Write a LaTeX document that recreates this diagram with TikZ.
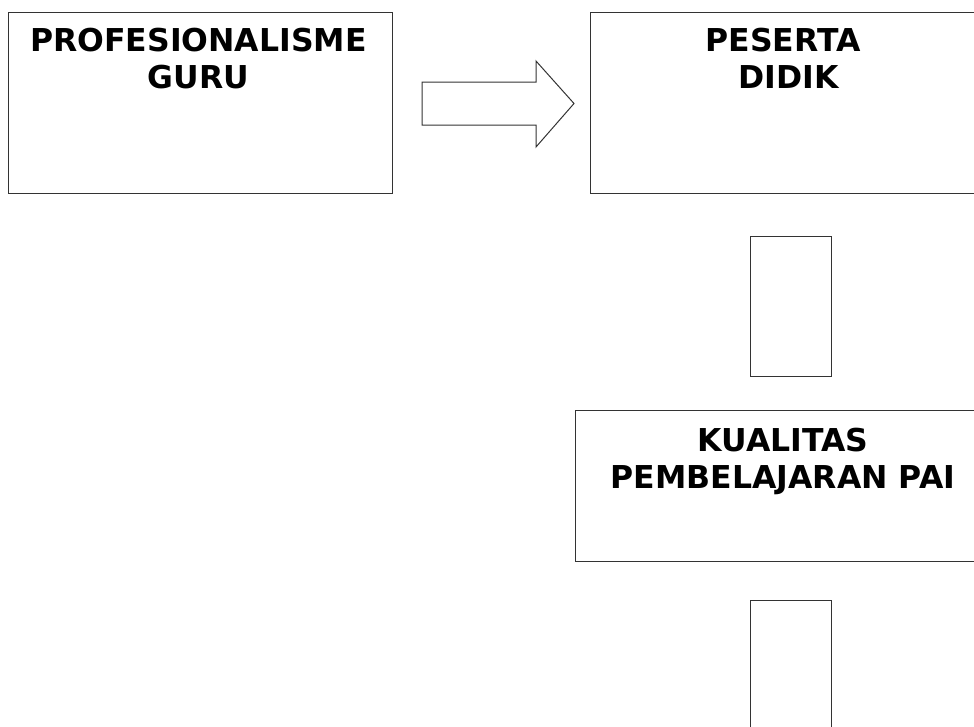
\documentclass[tikz,border=0pt]{standalone}
\usepackage{fontspec}
\setmainfont{DejaVu Sans}
\usetikzlibrary{positioning}

\begin{document}
\begin{tikzpicture}[x=1pt,y=-1pt]
  \tikzstyle{kotak}=[draw=black!80,line width=1pt,inner sep=0pt]
  \tikzstyle{judul}=[font=\bfseries\fontsize{31.5}{37.8}\selectfont,align=center,inner sep=0pt]
  \useasboundingbox (0,0) rectangle (974,726);
  \node[kotak,minimum width=384pt,minimum height=181pt] (guru) at (200,102.5) {};
  \node[kotak,minimum width=386pt,minimum height=181pt] (peserta) at (783,102.5) {};
  \node[kotak,minimum width=81pt,minimum height=140pt] (antara1) at (790.5,306) {};
  \node[kotak,minimum width=416pt,minimum height=151pt] (kualitas) at (783,485.5) {};
  \node[kotak,minimum width=81pt,minimum height=140pt] (antara2) at (790.5,670) {};
  \node[judul,below=16pt of guru.north,xshift=-1.5pt] (tguru) {PROFESIONALISME\\GURU};
  \node[judul,below=16pt of peserta.north] (tpeserta) {PESERTA\\\ DIDIK};
  \node[judul,below=18pt of kualitas.north] (tkualitas) {KUALITAS\\PEMBELAJARAN PAI};
  % panah blok guru ke peserta didik
  \draw[black!80,line width=1pt] (422,82) -- (536,82) -- (536,61) -- (574,103.5)
    -- (536,147) -- (536,125) -- (422,125) -- cycle;
\end{tikzpicture}
\end{document}
